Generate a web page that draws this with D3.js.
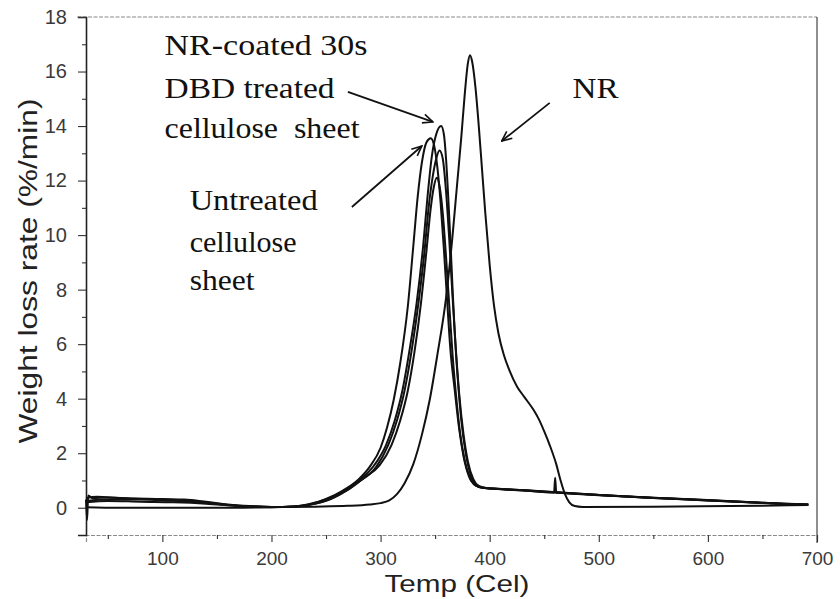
<!DOCTYPE html>
<html>
<head>
<meta charset="utf-8">
<script src="https://cdn.jsdelivr.net/npm/d3@7"></script>
<style>
  body { margin: 0; background: #fff; }
  svg { display: block; }
</style>
</head>
<body>
<svg id="chart" width="840" height="599"></svg>
<script>
// DTG curves: [temperature (°C), weight loss rate (%/min)]
const naturalRubber = [
  [30,0.02],[60,0.0],[100,0.0],[150,0.0],[200,0.02],[240,0.04],[270,0.07],[290,0.12],[300,0.17],
  [308,0.27],[315,0.5],[322,0.9],[330,1.6],[338,2.7],[345,3.95],[352,5.6],[360,7.7],[366,10.0],
  [370,11.8],[374,13.6],[377,15.1],[380,16.3],[382,16.6],[384,16.35],[387,15.4],[390,14.0],
  [393,12.4],[396,10.8],[400,8.9],[404,7.4],[408,6.4],[413,5.6],[418,5.05],[425,4.45],[432,4.05],
  [440,3.6],[445,3.25],[450,2.8],[455,2.3],[461,1.6],[465,1.0],[469,0.5],[473,0.2],[478,0.06],
  [485,0.03],[550,0.04],[620,0.06],[692,0.1]
];

const untreatedSheet = [
  [30,0.3],[31,-0.45],[32,0.45],[36,0.35],[50,0.38],[70,0.34],[100,0.3],[120,0.28],[140,0.2],
  [160,0.1],[180,0.05],[200,0.03],[220,0.04],[235,0.12],[250,0.32],[265,0.62],[280,1.05],[290,1.5],
  [300,2.2],[306,2.95],[312,3.95],[318,5.3],[325,7.4],[330,9.6],[334,11.4],[338,12.7],[342,13.4],
  [346,13.55],[349,13.3],[352,12.5],[355,11.2],[358,9.5],[361,7.6],[364,5.8],[368,4.3],[372,2.9],
  [376,1.9],[381,1.15],[387,0.82],[393,0.74],[420,0.66],[460,0.56],[500,0.46],[550,0.36],
  [600,0.27],[640,0.19],[670,0.14],[692,0.12]
];

const coatedTreated30s = [
  [30,0.35],[40,0.4],[60,0.36],[100,0.32],[120,0.3],[140,0.22],[160,0.12],[180,0.06],[200,0.03],
  [220,0.05],[235,0.14],[250,0.3],[265,0.58],[280,1.0],[294,1.55],[305,2.3],[313,3.2],[320,4.3],
  [327,5.9],[333,7.5],[339,9.6],[343,11.4],[347,12.9],[351,13.7],[355.5,14.0],[358,13.7],
  [360,12.8],[362,11.4],[364,9.8],[366,8.0],[368,6.4],[371,4.6],[374,3.2],[378,2.0],[383,1.15],
  [388,0.8],[395,0.72],[430,0.64],[459,0.56],[460,1.1],[461,0.56],[500,0.47],[550,0.37],
  [600,0.28],[640,0.2],[670,0.14],[692,0.11]
];

const coatedUntreated = [
  [30,0.25],[50,0.3],[80,0.3],[100,0.27],[130,0.22],[160,0.1],[190,0.04],[210,0.03],[230,0.08],
  [250,0.26],[265,0.55],[280,0.95],[296,1.5],[307,2.3],[315,3.2],[322,4.3],[329,5.9],[335,7.6],
  [340,9.3],[344,11.0],[348,12.2],[351,12.8],[354,13.1],[357,12.8],[360,11.6],[363,9.8],
  [366,7.7],[369,5.8],[372,4.2],[376,2.7],[380,1.7],[385,1.05],[390,0.8],[397,0.72],[430,0.65],
  [500,0.47],[560,0.35],[620,0.24],[660,0.16],[692,0.12]
];

const treatedSheet = [
  [30,0.2],[50,0.25],[80,0.22],[110,0.2],[140,0.15],[170,0.06],[200,0.02],[225,0.05],[240,0.15],
  [255,0.33],[270,0.65],[285,1.1],[299,1.55],[310,2.3],[318,3.2],[325,4.3],[331,5.7],[337,7.5],
  [342,9.4],[346,11.0],[349,11.8],[351.5,12.1],[354,11.8],[357,10.8],[360,9.2],[363,7.4],
  [366,5.6],[369,4.2],[373,2.7],[377,1.75],[382,1.1],[388,0.8],[395,0.72],[420,0.67],
  [480,0.52],[540,0.38],[600,0.27],[650,0.18],[692,0.12]
];

const series = [naturalRubber, untreatedSheet, coatedTreated30s, coatedUntreated, treatedSheet];

// Axis ticks
const xTicks = [100, 200, 300, 400, 500, 600, 700];
const xMinorTicks = [50, 150, 250, 350, 450, 550, 650];
const yTicks = [0, 2, 4, 6, 8, 10, 12, 14, 16, 18];
const yMinorTicks = [1, 3, 5, 7, 9, 11, 13, 15, 17];

// Callout labels: each line anchored at [temperature, rate] of its baseline start
const labelLines = [
  { text: "NR-coated 30s",    at: [102, 16.6],  width: 203 },
  { text: "DBD treated",      at: [102, 15.03], width: 170 },
  { text: "cellulose  sheet", at: [102, 13.56], width: 195 },
  { text: "Untreated",        at: [125, 10.92], width: 128 },
  { text: "cellulose",        at: [125, 9.38],  width: 107 },
  { text: "sheet",            at: [125, 7.98],  width: 65 },
  { text: "NR",               at: [476, 15.03], width: 46 }
];
// Arrows: [from, to] in data units
const arrows = [
  [[270, 15.25], [347.9, 14.15]],
  [[273.7, 11.03], [337.8, 13.27]],
  [[455, 14.85], [411, 13.45]]
];

const svg = d3.select("#chart");
const x = d3.scaleLinear().domain([30, 700]).range([86, 817]);
const y = d3.scaleLinear().domain([-1, 18]).range([535, 17]);

// Frame: top and right edges
svg.append("line").attr("x1", x(30) - 9).attr("x2", x(700)).attr("y1", y(18)).attr("y2", y(18))
  .attr("stroke", "#8a8a8a").attr("stroke-width", 1.2).attr("stroke-dasharray", "4,1.5");
svg.append("line").attr("x1", x(700)).attr("x2", x(700)).attr("y1", y(18)).attr("y2", y(-1) + 8)
  .attr("stroke", "#333").attr("stroke-width", 1.1);

// Bottom axis
const gx = svg.append("g").attr("transform", `translate(0,${y(-1)})`);
gx.call(d3.axisBottom(x).tickValues(xTicks).tickSize(7).tickPadding(10).tickFormat(d3.format("d")));
gx.select(".domain").attr("stroke", "#8a8a8a").attr("stroke-width", 1.2).attr("stroke-dasharray", "4,1.5");
gx.selectAll(".tick line").attr("stroke", "#333").attr("stroke-width", 1.1);
gx.selectAll(".tick text").attr("font-family", "'Liberation Sans', Arial, sans-serif")
  .attr("font-size", 19).attr("fill", "#3a3a3a");
const gxm = svg.append("g").attr("transform", `translate(0,${y(-1)})`);
gxm.call(d3.axisBottom(x).tickValues(xMinorTicks).tickSize(4).tickFormat(""));
gxm.select(".domain").remove();
gxm.selectAll(".tick line").attr("stroke", "#333").attr("stroke-width", 1.1);

// Left axis
const gy = svg.append("g").attr("transform", `translate(${x(30)},0)`);
gy.call(d3.axisLeft(y).tickValues(yTicks).tickSize(8).tickPadding(11).tickFormat(d3.format("d")));
gy.select(".domain").attr("stroke", "#222").attr("stroke-width", 1.6);
gy.selectAll(".tick line").attr("stroke", "#333").attr("stroke-width", 1.1);
gy.selectAll(".tick text").attr("font-family", "'Liberation Sans', Arial, sans-serif")
  .attr("font-size", 20).attr("fill", "#3a3a3a");
const gym = svg.append("g").attr("transform", `translate(${x(30)},0)`);
gym.call(d3.axisLeft(y).tickValues(yMinorTicks).tickSize(4).tickFormat(""));
gym.select(".domain").remove();
gym.selectAll(".tick line").attr("stroke", "#333").attr("stroke-width", 1.1);

// Axis titles
svg.append("text")
  .attr("x", 457).attr("y", 592).attr("text-anchor", "middle")
  .attr("font-family", "'Liberation Sans', Arial, sans-serif").attr("font-size", 24)
  .attr("fill", "#222").attr("textLength", 145).attr("lengthAdjust", "spacingAndGlyphs")
  .text("Temp (Cel)");
svg.append("text")
  .attr("transform", "translate(37,271) rotate(-90)").attr("text-anchor", "middle")
  .attr("font-family", "'Liberation Sans', Arial, sans-serif").attr("font-size", 26)
  .attr("fill", "#222").attr("textLength", 345).attr("lengthAdjust", "spacingAndGlyphs")
  .text("Weight loss rate (%/min)");

// Curves
const line = d3.line().x(d => x(d[0])).y(d => y(d[1])).curve(d3.curveMonotoneX);
svg.append("g").selectAll("path").data(series).join("path")
  .attr("d", line).attr("fill", "none").attr("stroke", "#111")
  .attr("stroke-width", 2).attr("stroke-linejoin", "round");

// Callout text
svg.append("g").selectAll("text").data(labelLines).join("text")
  .attr("x", d => x(d.at[0])).attr("y", d => y(d.at[1]))
  .attr("font-family", "'Liberation Serif', 'Times New Roman', serif").attr("font-size", 29)
  .attr("fill", "#111").attr("textLength", d => d.width).attr("lengthAdjust", "spacingAndGlyphs")
  .style("white-space", "pre")
  .text(d => d.text);

// Arrows with open heads
svg.append("defs").append("marker")
  .attr("id", "head").attr("viewBox", "0 0 12 12").attr("refX", 11).attr("refY", 6)
  .attr("markerWidth", 12).attr("markerHeight", 12).attr("markerUnits", "userSpaceOnUse")
  .attr("orient", "auto")
  .append("path").attr("d", "M1,1.5 L11,6 L1,10.5").attr("fill", "none")
  .attr("stroke", "#111").attr("stroke-width", 1.6);
svg.append("g").selectAll("line").data(arrows).join("line")
  .attr("x1", d => x(d[0][0])).attr("y1", d => y(d[0][1]))
  .attr("x2", d => x(d[1][0])).attr("y2", d => y(d[1][1]))
  .attr("stroke", "#111").attr("stroke-width", 1.8).attr("marker-end", "url(#head)");
</script>
</body>
</html>
